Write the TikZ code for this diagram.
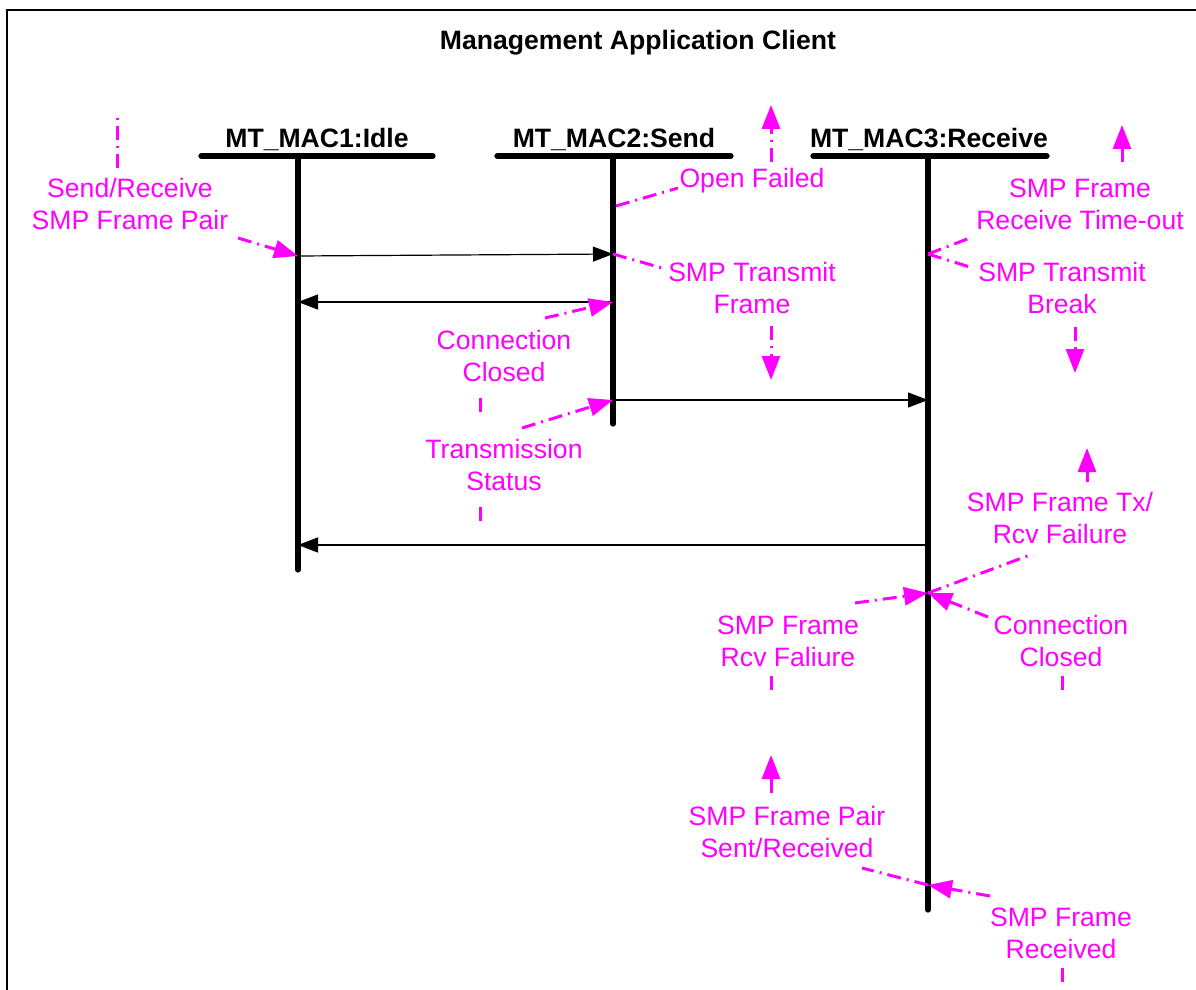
\documentclass[tikz,border=0pt]{standalone}
\usepackage{fontspec}
\setmainfont{Liberation Sans}
\usetikzlibrary{arrows.meta}
\definecolor{mag}{RGB}{255,0,255}
\begin{document}
\begin{tikzpicture}[x=0.5pt, y=-0.5pt, every node/.style={inner sep=0pt, font=\fontsize{13.3}{16}\selectfont}]
\useasboundingbox (0,0) rectangle (1196,990);
\draw[line width=0.75pt] (7,990) -- (7,10) -- (1196,10);

\tikzset{every node/.style={inner sep=0pt, font=\fontsize{13.3}{16}\selectfont\bfseries}} 
\node (title) at (638,43) {Management Application Client};
\node[anchor=base] (mac1) at (317,148) {MT\_MAC1:Idle};
\node[anchor=base] (mac2) at (614,148) {MT\_MAC2:Send};
\node[anchor=base] (mac3) at (929,148) {MT\_MAC3:Receive};

\coordinate (h1) at (201,156); \coordinate (h2) at (433,156);
\coordinate (h3) at (497,156); \coordinate (h4) at (731,156);
\coordinate (h5) at (813,156); \coordinate (h6) at (1047,156);
\coordinate (a0) at (298,156); \coordinate (a9) at (298,570);
\coordinate (b0) at (613,156); \coordinate (b9) at (613,424);
\coordinate (c0) at (928,156); \coordinate (c9) at (928,910);

\tikzset{barstyle/.style={line width=2.6pt, line cap=round}}
\draw[barstyle] (h1) -- (h2);
\draw[barstyle] (h3) -- (h4);
\draw[barstyle] (h5) -- (h6);
\draw[barstyle] (a0) -- (a9);
\draw[barstyle] (b0) -- (b9);
\draw[barstyle] (c0) -- (c9);

\coordinate (a1) at (298,256); \coordinate (a2) at (298,302); \coordinate (a3) at (298,545);
\coordinate (b1) at (613,254); \coordinate (b2) at (613,302); \coordinate (b3) at (613,400);
\coordinate (b4) at (616,206);
\coordinate (c1) at (928,400); \coordinate (c2) at (928,545); \coordinate (c3) at (928,254);
\coordinate (c4) at (928,593); \coordinate (c5) at (928,885);

\tikzset{msgstyle/.style={-{Triangle[length=10pt, width=7.5pt]}, line width=0.6pt}}
\path (a1) edge [msgstyle] (b1);
\path (b2) edge [msgstyle] (a2);
\path (b3) edge [msgstyle] (c1);
\path (c2) edge [msgstyle] (a3);

\tikzset{every node/.style={inner sep=0pt, align=center, text=mag, font=\fontsize{13.3}{16}\selectfont}} 
\node (pair) at (130,204) {Send/Receive\\SMP Frame Pair};
\node (open) at (752,181) {Open Failed};
\node (txframe) at (752,288) {SMP Transmit\\Frame};
\node (closed1) at (504,356) {Connection\\Closed};
\node (status) at (504,465) {Transmission\\Status};
\node (timeout) at (1080,204) {SMP Frame\\Receive Time-out};
\node (break) at (1062,288) {SMP Transmit\\Break};
\node (txfail) at (1060,518) {SMP Frame Tx/\\Rcv Failure};
\node (rcvfail) at (788,641) {SMP Frame\\Rcv Faliure};
\node (closed2) at (1061,641) {Connection\\Closed};
\node (sent) at (787,832) {SMP Frame Pair\\Sent/Received};
\node (recv) at (1061,933) {SMP Frame\\Received};

\coordinate (p1) at (238,238); \coordinate (p2) at (117,168); \coordinate (p3) at (117,118);
\coordinate (o1) at (678,188); \coordinate (o2) at (771,162); \coordinate (o3) at (771,105);
\coordinate (f1) at (662,268); \coordinate (f2) at (771,326); \coordinate (f3) at (771,380);
\coordinate (k1) at (545,318); \coordinate (k2) at (480,398); \coordinate (k3) at (480,412);
\coordinate (s1) at (522,428); \coordinate (s2) at (480,507); \coordinate (s3) at (480,521);
\coordinate (t1) at (970,238); \coordinate (t2) at (1122,162); \coordinate (t3) at (1122,125);
\coordinate (r1) at (973,268); \coordinate (r2) at (1075,327); \coordinate (r3) at (1075,373);
\coordinate (x1) at (1030,555); \coordinate (x2) at (1087,482); \coordinate (x3) at (1087,448);
\coordinate (v1) at (855,603); \coordinate (v2) at (771,676); \coordinate (v3) at (771,692);
\coordinate (q1) at (988,617); \coordinate (q2) at (1062,676); \coordinate (q3) at (1062,692);
\coordinate (e1) at (862,868); \coordinate (e2) at (771,793); \coordinate (e3) at (771,755);
\coordinate (g1) at (990,896); \coordinate (g2) at (1062,968); \coordinate (g3) at (1062,985);

\tikzset{trstyle/.style={draw=mag, line width=1.5pt, dash pattern=on 7pt off 3pt on 1pt off 3pt}}
\tikzset{trarrow/.style={trstyle, -{Triangle[length=12pt, width=9pt, fill=mag]}}}
\path (p1) edge [trarrow] (a1);
\path (p2) edge [trstyle] (p3);
\path (b4) edge [trstyle] (o1);
\path (o2) edge [trarrow] (o3);
\path (b1) edge [trstyle] (f1);
\path (f2) edge [trarrow] (f3);
\path (k1) edge [trarrow] (b2);
\path (k2) edge [trstyle] (k3);
\path (s1) edge [trarrow] (b3);
\path (s2) edge [trstyle] (s3);
\path (c3) edge [trstyle] (t1);
\path (t2) edge [trarrow] (t3);
\path (c3) edge [trstyle] (r1);
\path (r2) edge [trarrow] (r3);
\path (c4) edge [trstyle] (x1);
\path (x2) edge [trarrow] (x3);
\path (v1) edge [trarrow] (c4);
\path (v2) edge [trstyle] (v3);
\path (q1) edge [trarrow] (c4);
\path (q2) edge [trstyle] (q3);
\path (c5) edge [trstyle] (e1);
\path (e2) edge [trarrow] (e3);
\path (g1) edge [trarrow] (c5);
\path (g2) edge [trstyle] (g3);
\end{tikzpicture}
\end{document}
